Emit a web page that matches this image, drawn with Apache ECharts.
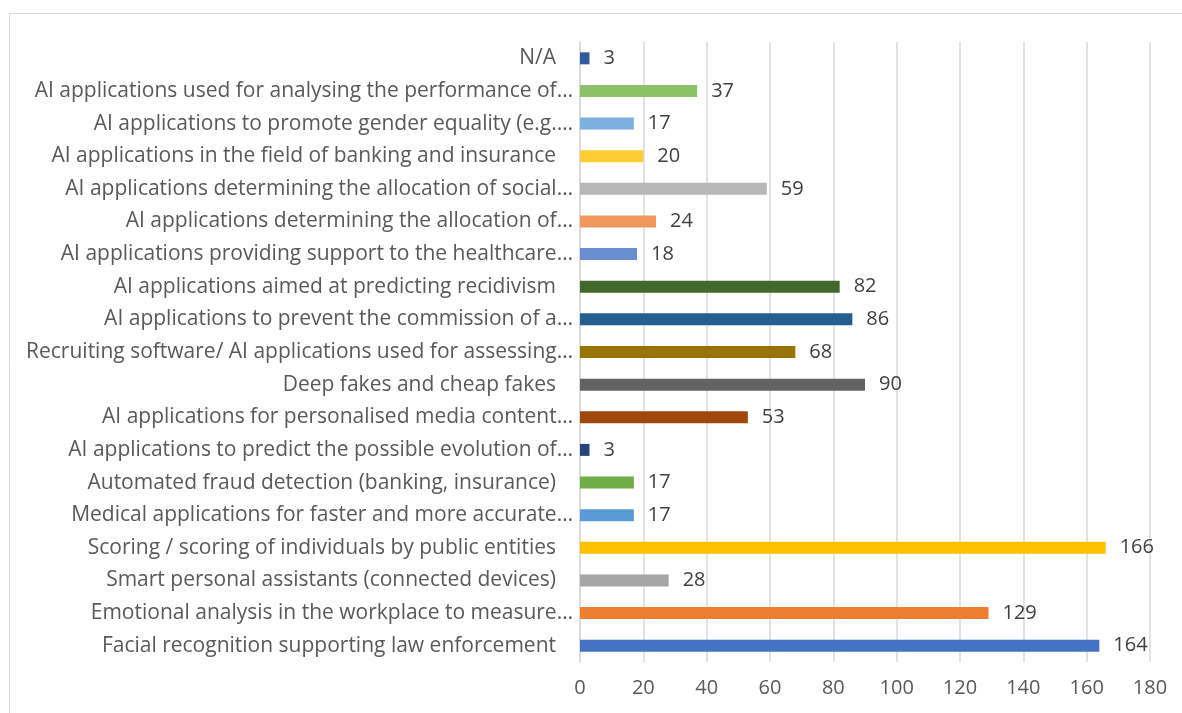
<!DOCTYPE html>
<html>
<head>
<meta charset="utf-8">
<script src="https://cdn.jsdelivr.net/npm/echarts@6/dist/echarts.min.js"></script>
<style>
html,body{margin:0;padding:0;background:#fff;}
#chart{width:1182px;height:713px;}
</style>
</head>
<body>
<div id="chart"></div>
<script>
// categories listed bottom to top
const categories = [
  "Facial recognition supporting law enforcement",
  "Emotional analysis in the workplace to measure…",
  "Smart personal assistants (connected devices)",
  "Scoring / scoring of individuals by public entities",
  "Medical applications for faster and more accurate…",
  "Automated fraud detection (banking, insurance)",
  "AI applications to predict the possible evolution of…",
  "AI applications for personalised media content…",
  "Deep fakes and cheap fakes",
  "Recruiting software/ AI applications used for assessing…",
  "AI applications to prevent the commission of a…",
  "AI applications aimed at predicting recidivism",
  "AI applications providing support to the healthcare…",
  "AI applications determining the allocation of…",
  "AI applications determining the allocation of social…",
  "AI applications in the field of banking and insurance",
  "AI applications to promote gender equality (e.g.…",
  "AI applications used for analysing the performance of…",
  "N/A"
];
const values = [164, 129, 28, 166, 17, 17, 3, 53, 90, 68, 86, 82, 18, 24, 59, 20, 17, 37, 3];
const barColors = [
  "#4472C4", "#ED7D31", "#A5A5A5", "#FFC000", "#5B9BD5", "#70AD47",
  "#264478", "#9E480E", "#636363", "#997300", "#255E91", "#43682B",
  "#698ED0", "#F1975A", "#B7B7B7", "#FFCD33", "#7CAFDD", "#8CC168", "#335AA1"
];
const xTicks = { min: 0, max: 180, interval: 20 };

const chart = echarts.init(document.getElementById('chart'), null, { renderer: 'canvas' });
const FONT = "'Open Sans', 'Liberation Sans', sans-serif";
chart.setOption({
  animation: false,
  backgroundColor: '#ffffff',
  graphic: [{
    type: 'rect',
    shape: { x: 9.5, y: 13.5, width: 1300, height: 900 },
    style: { fill: 'none', stroke: '#d9d9d9', lineWidth: 1 },
    silent: true
  }],
  grid: { left: 580, right: 32, top: 42, bottom: 51, containLabel: false },
  xAxis: {
    type: 'value',
    min: xTicks.min, max: xTicks.max, interval: xTicks.interval,
    axisLine: { show: false },
    axisTick: { show: false },
    splitLine: { show: true, lineStyle: { color: '#d9d9d9', width: 1.5 } },
    axisLabel: { color: '#595959', fontSize: 20, fontFamily: FONT, margin: 16 }
  },
  yAxis: {
    type: 'category',
    data: categories,
    axisLine: { show: true, lineStyle: { color: '#d9d9d9', width: 1.5 } },
    axisTick: { show: false },
    axisLabel: {
      color: '#595959', fontSize: 21, fontFamily: FONT, margin: 7, interval: 0,
      formatter: function (v) { return v.endsWith('…') ? v : '{s|' + v + '}'; },
      rich: { s: { color: '#595959', fontSize: 21, fontFamily: FONT, padding: [0, 17, 0, 0] } }
    }
  },
  series: [{
    type: 'bar',
    data: values,
    barWidth: 12,
    colorBy: 'data',
    color: barColors,
    label: {
      show: true, position: 'right', distance: 14,
      color: '#404040', fontSize: 20, fontFamily: FONT
    }
  }]
});
</script>
</body>
</html>
